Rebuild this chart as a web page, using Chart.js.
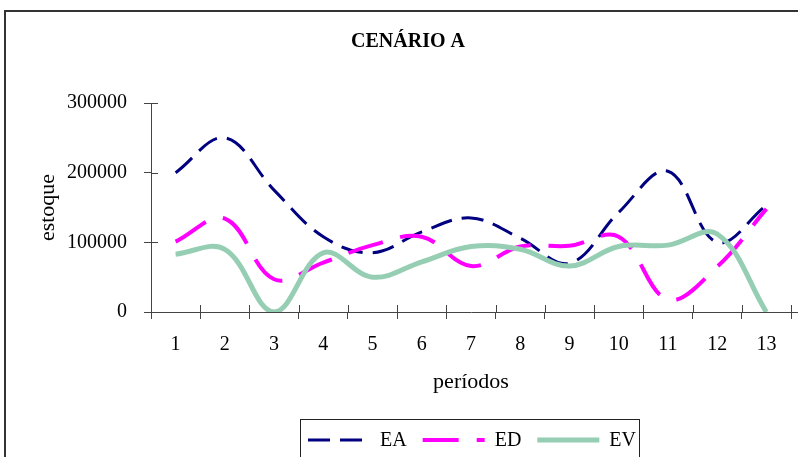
<!DOCTYPE html>
<html>
<head>
<meta charset="utf-8">
<script src="https://cdn.jsdelivr.net/npm/chart.js@4.4.1/dist/chart.umd.min.js"></script>
<style>
  html, body { margin: 0; padding: 0; background: #fff; }
  canvas { display: block; }
</style>
</head>
<body>
<canvas id="chart" width="798" height="457"></canvas>
<script>
// periods on the x axis
const periods = ['1', '2', '3', '4', '5', '6', '7', '8', '9', '10', '11', '12', '13'];

// stock per period
const eaValues = [200000, 250000, 175000, 108000, 85000, 115000, 135000, 106000, 70000, 143000, 202000, 100000, 153000];
const edValues = [101000, 134000, 47000, 71000, 96000, 108000, 66000, 94000, 95000, 108000, 18000, 65000, 148000];
const evValues = [83000, 90000, 0, 85000, 50000, 72000, 94000, 90000, 66000, 94000, 96000, 112000, 0];

const yTicks = [0, 100000, 200000, 300000];

const FONT = "'Liberation Serif', 'Times New Roman', serif";
const AXIS = '#444';

// frame, cross tick marks and the boxed legend, like the spreadsheet chart
const excelLook = {
  id: 'excelLook',
  afterDraw(chart) {
    const { ctx, chartArea: a, scales: { x, y } } = chart;
    ctx.save();

    // outer frame (only top and left edges are visible)
    ctx.strokeStyle = '#333';
    ctx.lineWidth = 2;
    ctx.beginPath();
    ctx.moveTo(5, chart.height);
    ctx.lineTo(5, 11);
    ctx.lineTo(chart.width, 11);
    ctx.stroke();

    // inner halves of the cross ticks + axis stub past the last tick
    ctx.strokeStyle = AXIS;
    ctx.lineWidth = 1;
    ctx.beginPath();
    for (let i = 0; i <= periods.length; i++) {
      const px = Math.round(x.getPixelForValue(i - 0.5)) + 0.5;
      ctx.moveTo(px, a.bottom);
      ctx.lineTo(px, a.bottom - 7);
    }
    yTicks.forEach(v => {
      const py = Math.round(y.getPixelForValue(v)) + 0.5;
      ctx.moveTo(a.left, py);
      ctx.lineTo(a.left + 7, py);
    });
    ctx.moveTo(a.right, Math.round(a.bottom) + 0.5);
    ctx.lineTo(chart.width, Math.round(a.bottom) + 0.5);
    ctx.stroke();

    // legend box
    ctx.strokeStyle = '#222';
    ctx.strokeRect(300.5, 419.5, 339, 60);
    ctx.font = '20px ' + FONT;
    ctx.fillStyle = '#000';
    ctx.textBaseline = 'middle';
    let lx = 308;
    const ly = 440;
    chart.data.datasets.forEach(ds => {
      ctx.save();
      ctx.strokeStyle = ds.borderColor;
      ctx.lineWidth = ds.borderWidth;
      ctx.setLineDash(ds.borderDash || []);
      ctx.beginPath();
      ctx.moveTo(lx, ly);
      ctx.lineTo(lx + 62, ly);
      ctx.stroke();
      ctx.restore();
      ctx.fillText(ds.label, lx + 72, ly + 1);
      lx += 72 + ctx.measureText(ds.label).width + 16;
    });

    ctx.restore();
  }
};

new Chart(document.getElementById('chart'), {
  type: 'line',
  data: {
    labels: periods,
    datasets: [
      { label: 'EA', data: eaValues, borderColor: '#000080', borderWidth: 3, borderDash: [22, 10], order: 3 },
      { label: 'ED', data: edValues, borderColor: '#FF00FF', borderWidth: 4, borderDash: [36, 18], order: 2 },
      { label: 'EV', data: evValues, borderColor: '#96CEB4', borderWidth: 5, order: 1 }
    ]
  },
  options: {
    responsive: false,
    animation: false,
    devicePixelRatio: 1,
    layout: { padding: { left: 25, right: 7, top: 0, bottom: 0 } },
    elements: {
      point: { radius: 0, hoverRadius: 0 },
      line: { tension: 0.38, fill: false }
    },
    plugins: {
      legend: { display: false },
      tooltip: { enabled: false },
      title: {
        display: true,
        text: 'CENÁRIO A',
        color: '#000',
        font: { family: FONT, size: 20, weight: 'bold' },
        padding: { top: 30, bottom: 49 }
      }
    },
    scales: {
      x: {
        type: 'category',
        offset: true,
        grid: { offset: true, drawOnChartArea: false, drawTicks: true, tickLength: 7, color: AXIS },
        border: { color: AXIS, width: 1 },
        ticks: { color: '#000', font: { family: FONT, size: 20 }, padding: 14, maxRotation: 0, autoSkip: false },
        title: { display: true, text: 'períodos', color: '#000', font: { family: FONT, size: 22 }, padding: { top: 0, bottom: 62 } },
        afterFit(scale) { scale.height = 145; }
      },
      y: {
        min: 0,
        max: 300000,
        grid: { drawOnChartArea: false, drawTicks: true, tickLength: 7, color: AXIS },
        border: { color: AXIS, width: 1 },
        ticks: {
          stepSize: 100000,
          color: '#000',
          font: { family: FONT, size: 20 },
          padding: 17,
          callback: v => String(v)
        },
        title: { display: true, text: 'estoque', color: '#000', font: { family: FONT, size: 22 }, padding: 10 },
        afterFit(scale) { scale.width = 126; }
      }
    }
  },
  plugins: [excelLook]
});
</script>
</body>
</html>
